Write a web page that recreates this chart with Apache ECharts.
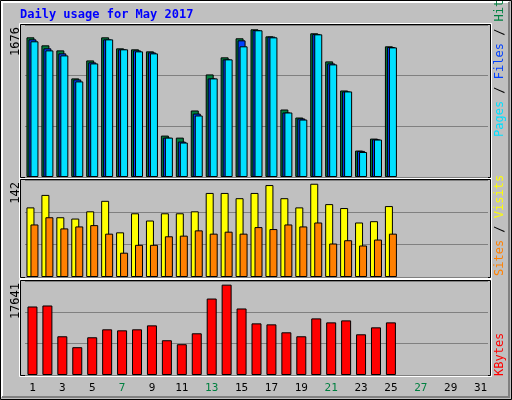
<!DOCTYPE html>
<html><head><meta charset="utf-8">
<script src="https://cdn.jsdelivr.net/npm/echarts@6/dist/echarts.min.js"></script>
<style>html,body{margin:0;padding:0;background:#c0c0c0}#c{width:512px;height:400px}</style>
</head><body><div id="c"></div>
<script>
const days = Array.from({length:31},(_,i)=>String(i+1));
const weekendDays = ['6','7','13','14','20','21','27','28'];
const hits  = [1585,1494,1437,1119,1323,1585,1460,1449,1426,470,447,755,1164,1358,1574,1676,1596,766,675,1631,1312,982,300,436,1483];
const files = [1562,1460,1403,1107,1301,1562,1449,1437,1414,447,402,720,1119,1335,1551,1668,1593,732,664,1623,1289,971,296,428,1475];
const pages = [1540,1437,1380,1085,1289,1562,1449,1426,1403,447,391,698,1119,1335,1483,1665,1585,732,652,1619,1278,971,284,425,1471];
const visits= [106,125,91,89,100,116,68,97,86,97,97,100,128,128,120,128,140,120,106,142,111,105,83,85,108];
const sites = [80,91,74,77,79,66,37,49,49,62,63,71,66,69,66,76,73,80,77,83,51,56,48,57,66];
const kbytes= [13376,13570,7561,5428,7367,8918,8724,8918,9693,6785,6010,8142,14927,17641,12989,10081,9887,8336,7561,11050,10275,10662,7948,9305,10275];
const maxLabels = ['1676','142','17641'];
const title = 'Daily usage for May 2017';

const mono = 'DejaVu Sans Mono';
const grids = [{top:25,height:152},{top:180,height:97},{top:281,height:94}];
const maxes = [1725,147.7,18352];
const ch = echarts.init(document.getElementById('c'));
const xAxes = grids.map((g,i)=>({gridIndex:i,type:'category',data:days,boundaryGap:true,
  axisLine:{show:false},axisTick:{show:false},
  axisLabel:{show:i===2,fontFamily:mono,fontSize:11,margin:8,
    color:(v)=>weekendDays.includes(v)?'#008040':'#000'}}));
const yAxes = grids.map((g,i)=>({gridIndex:i,type:'value',min:0,max:maxes[i],interval:maxes[i]/3,
  axisLabel:{show:false},axisLine:{show:false},axisTick:{show:false},
  splitLine:{lineStyle:{color:'#808080',width:1}}}));
const bs = (name,data,color,gi,w,gap)=>({name,type:'bar',data,xAxisIndex:gi,yAxisIndex:gi,barWidth:w,barGap:gap,
  itemStyle:{color,borderColor:'#000',borderWidth:1},animation:false});
const frames = grids.map(g=>({type:'rect',shape:{x:20.5,y:g.top-0.5,width:470,height:g.height+1},
  style:{fill:null,stroke:'#000',lineWidth:1},z:-1}));
const frames2 = grids.map(g=>({type:'rect',shape:{x:19.5,y:g.top-1.5,width:472,height:g.height+3},
  style:{fill:null,stroke:'#fff',lineWidth:1},z:-2}));
const maxTexts = grids.map((g,i)=>({type:'text',x:16,y:g.top+2,rotation:Math.PI/2,
  style:{text:maxLabels[i],font:'12px '+mono,fill:'#000',align:'right',verticalAlign:'middle'}}));
const legend = (y,parts)=>({type:'text',x:500,y,rotation:Math.PI/2,
  style:{text:parts.map((p,k)=>'{s'+k+'|'+p[0]+'}').join(''),
    rich:Object.fromEntries(parts.map((p,k)=>['s'+k,{fill:p[1],font:'12px '+mono}])),
    align:'left',verticalAlign:'middle'}});
ch.setOption({
  animation:false,
  grid:grids.map(g=>({left:25,right:24,top:g.top,height:g.height})),
  xAxis:xAxes,yAxis:yAxes,
  series:[
    bs('Hits',hits,'#008040',0,8,'-75%'),
    bs('Files',files,'#0040ff',0,8,'-75%'),
    bs('Pages',pages,'#00e0ff',0,8,'-75%'),
    bs('Visits',visits,'#ffff00',1,8,'-50%'),
    bs('Sites',sites,'#ff8000',1,8,'-50%'),
    bs('KBytes',kbytes,'#ff0000',2,10,'0%')
  ],
  graphic:[
    {type:'rect',shape:{x:0.5,y:0.5,width:511,height:399},style:{fill:'#c0c0c0',stroke:'#000',lineWidth:1},z:-10},
    {type:'polyline',shape:{points:[[2,397],[2,2],[509,2]]},style:{stroke:'#fff',lineWidth:2,fill:null},z:-9},
    {type:'polyline',shape:{points:[[509,2],[509,397],[2,397]]},style:{stroke:'#808080',lineWidth:2,fill:null},z:-9},
    {type:'text',x:20,y:15,style:{text:title,font:'bold 12px '+mono,fill:'#0000ff',verticalAlign:'middle'}},
    ...frames2,...frames,...maxTexts,
    legend(137,[['Pages','#00e0ff'],[' / ','#000'],['Files','#0040ff'],[' / ','#000'],['Hits','#008040']]),
    legend(276,[['Sites','#ff8000'],[' / ','#000'],['Visits','#ffff00']]),
    legend(376,[['KBytes','#ff0000']])
  ]
});
</script></body></html>
